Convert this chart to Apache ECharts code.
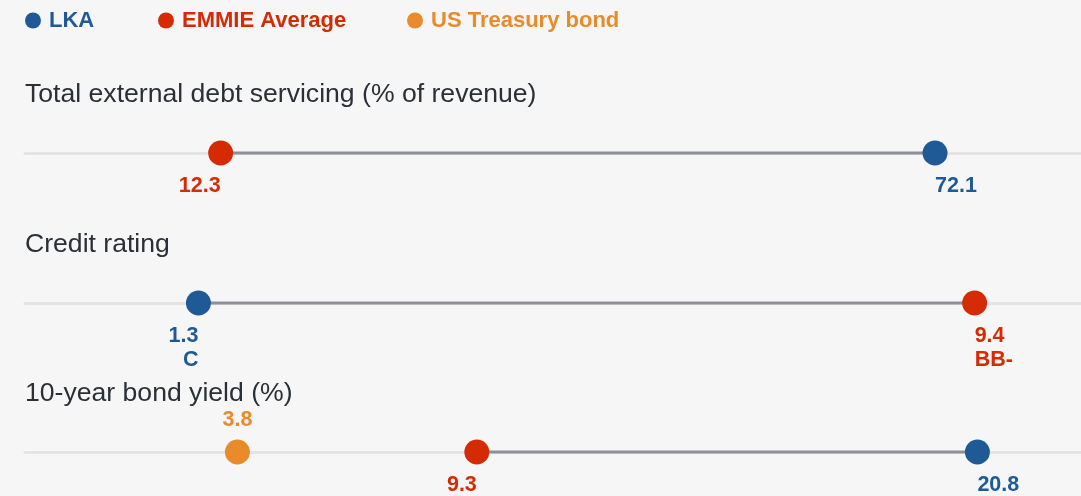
<!DOCTYPE html>
<html>
<head>
<meta charset="utf-8">
<script src="https://cdn.jsdelivr.net/npm/echarts@6/dist/echarts.min.js"></script>
<style>
  html, body { margin: 0; padding: 0; background: #f6f6f6; }
  #chart { width: 1081px; height: 496px; }
</style>
</head>
<body>
<div id="chart"></div>
<script>
// values
const metrics = ['Total external debt servicing (% of revenue)', 'Credit rating', '10-year bond yield (%)'];
const lkaValues = [72.1, 1.3, 20.8];
const emmieValues = [12.3, 9.4, 9.3];
const usTreasuryValues = [null, null, 3.8];
const lkaNotes = ['', 'C', ''];
const emmieNotes = ['', 'BB-', ''];

// layout
const lineY = [153, 303, 452];
const axisMin = [-4.08, -0.51, -1.08];
const axisMax = [84.32, 10.51, 23.18];

const BLUE = '#1f5a97';
const RED = '#d42b04';
const ORANGE = '#e98a2b';
const FONT = '"Liberation Sans", Arial, Helvetica, sans-serif';

let myChart = echarts.init(document.getElementById('chart'));

let grids = [], xAxes = [], yAxes = [], titles = [], series = [];

function pointLabel(color, note, side) {
  return {
    show: true,
    position: side === 'top' ? 'top' : 'bottom',
    distance: side === 'top' ? 7 : 9,
    align: side === 'top' ? 'center' : side,
    color: color,
    fontFamily: FONT,
    fontSize: 21.5,
    fontWeight: 'bold',
    lineHeight: 24,
    formatter: function (p) {
      return p.value[0] + (note ? '\n' + note : '');
    }
  };
}

metrics.forEach((name, i) => {
  grids.push({ left: 25, right: 0, top: lineY[i] - 20, height: 40 });
  xAxes.push({
    type: 'value', gridIndex: i, min: axisMin[i], max: axisMax[i],
    axisLine: { show: true, onZero: true, lineStyle: { color: '#e4e4e4', width: 3 } },
    axisTick: { show: false }, axisLabel: { show: false }, splitLine: { show: false }
  });
  yAxes.push({ type: 'value', gridIndex: i, min: -1, max: 1, show: false });
  titles.push({
    text: name, left: 25, top: lineY[i] - 71, padding: 0,
    textStyle: { fontFamily: FONT, fontSize: 26.6, fontWeight: 'normal', color: '#2b3037', lineHeight: 26 }
  });

  let lo = Math.min(lkaValues[i], emmieValues[i]);
  let hi = Math.max(lkaValues[i], emmieValues[i]);
  // connector between LKA and EMMIE average
  series.push({
    type: 'line', xAxisIndex: i, yAxisIndex: i, symbol: 'none', silent: true, z: 2,
    lineStyle: { color: '#8b9099', width: 3 },
    data: [[lo, 0], [hi, 0]]
  });
  series.push({
    name: 'LKA', type: 'scatter', xAxisIndex: i, yAxisIndex: i, symbolSize: 25, z: 5,
    itemStyle: { color: BLUE, opacity: 1 },
    label: pointLabel(BLUE, lkaNotes[i], lkaValues[i] < emmieValues[i] ? 'right' : 'left'),
    data: [[lkaValues[i], 0]]
  });
  series.push({
    name: 'EMMIE Average', type: 'scatter', xAxisIndex: i, yAxisIndex: i, symbolSize: 25, z: 5,
    itemStyle: { color: RED, opacity: 1 },
    label: pointLabel(RED, emmieNotes[i], emmieValues[i] < lkaValues[i] ? 'right' : 'left'),
    data: [[emmieValues[i], 0]]
  });
  if (usTreasuryValues[i] != null) {
    series.push({
      name: 'US Treasury bond', type: 'scatter', xAxisIndex: i, yAxisIndex: i, symbolSize: 25, z: 5,
      itemStyle: { color: ORANGE, opacity: 1 },
      label: pointLabel(ORANGE, '', 'top'),
      data: [[usTreasuryValues[i], 0]]
    });
  }
});

function legendItem(name, color, left) {
  return {
    data: [{ name: name, textStyle: { color: color } }],
    left: left, top: 9, padding: 0,
    icon: 'circle', itemWidth: 16, itemHeight: 16, selectedMode: false,
    textStyle: { fontFamily: FONT, fontSize: 22, fontWeight: 'bold', lineHeight: 23, padding: [0, 0, 0, 3] }
  };
}

myChart.setOption({
  backgroundColor: '#f6f6f6',
  animation: false,
  title: titles,
  legend: [
    legendItem('LKA', BLUE, 25),
    legendItem('EMMIE Average', RED, 158),
    legendItem('US Treasury bond', ORANGE, 407)
  ],
  grid: grids,
  xAxis: xAxes,
  yAxis: yAxes,
  series: series
});
</script>
</body>
</html>
